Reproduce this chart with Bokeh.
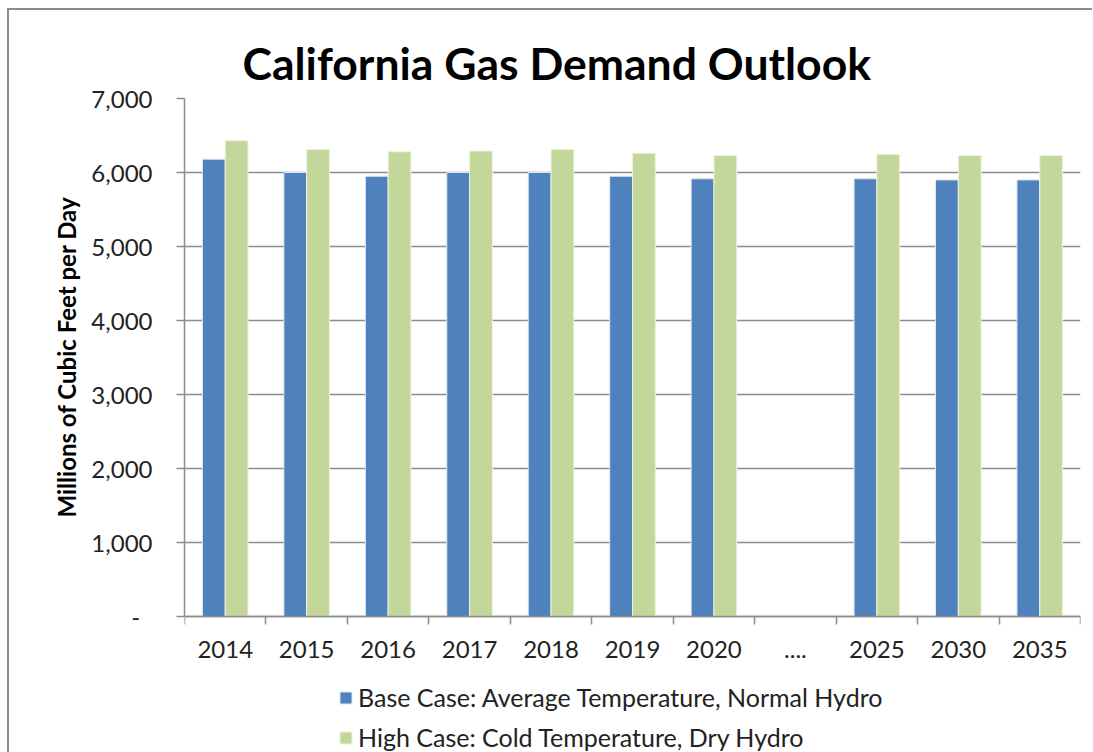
from bokeh.plotting import figure
from bokeh.models import ColumnDataSource, FixedTicker, Legend, LegendItem, Range1d, Title
from bokeh.embed import file_html
from bokeh.resources import INLINE

categories = ["2014", "2015", "2016", "2017", "2018", "2019", "2020", "....", "2025", "2030", "2035"]
base_case = [6180, 6000, 5950, 6000, 6000, 5950, 5915, float("nan"), 5915, 5900, 5900]
high_case = [6430, 6310, 6280, 6290, 6310, 6260, 6230, float("nan"), 6245, 6230, 6230]
y_ticks = [0, 1000, 2000, 3000, 4000, 5000, 6000, 7000]
y_tick_labels = ["-\u00a0\u00a0", "1,000", "2,000", "3,000", "4,000", "5,000", "6,000", "7,000"]

FONT = "Lato"
Y_MAX = 7000
PLOT_H = 518      # pixel height of the 0..7000 span
FRAME_H = 654     # frame extends below zero to host the legend
y_start = -Y_MAX * (FRAME_H - PLOT_H) / PLOT_H

idx = list(range(len(categories)))
src = ColumnDataSource(dict(
    xb=[i + 0.5 - 0.14 for i in idx],
    xh=[i + 0.5 + 0.14 for i in idx],
    base=base_case, high=high_case))

p = figure(frame_width=896, frame_height=FRAME_H, output_backend="svg", toolbar_location=None,
           x_range=Range1d(0, len(categories)), y_range=Range1d(y_start, Y_MAX),
           min_border_left=175, min_border_right=12, min_border_top=88, min_border_bottom=0)
p.styles = {"border-left": "2px solid #8a8a8a", "border-top": "2px solid #8a8a8a",
            "margin-left": "7px", "margin-top": "8px"}

rb = p.vbar(x="xb", top="base", width=0.28, source=src, fill_color="#4F81BD",
            line_color="#dfe8f3", line_width=1)
rh = p.vbar(x="xh", top="high", width=0.28, source=src, fill_color="#C4D79B",
            line_color="#eef3e0", line_width=1)

p.outline_line_color = None
p.xgrid.grid_line_color = None
p.ygrid.grid_line_color = "#8c8c8c"
p.ygrid.grid_line_width = 1.5
p.ygrid.ticker = FixedTicker(ticks=y_ticks)

p.xaxis.fixed_location = 0
p.xaxis.ticker = FixedTicker(ticks=[i + 0.5 for i in idx], minor_ticks=list(range(len(categories) + 1)))
p.xaxis.major_label_overrides = {i + 0.5: c for i, c in enumerate(categories)}
p.xaxis.major_tick_out = 0
p.xaxis.major_tick_in = 0
p.xaxis.minor_tick_out = 8
p.xaxis.minor_tick_in = 0
p.xaxis.minor_tick_line_color = "#8c8c8c"
p.xaxis.minor_tick_line_width = 1.5
p.xaxis.axis_line_color = "#8c8c8c"
p.xaxis.axis_line_width = 1.5
p.xaxis.major_label_text_font = FONT
p.xaxis.major_label_text_font_size = "24px"
p.xaxis.major_label_text_color = "#222222"
p.xaxis.major_label_standoff = 16

p.yaxis.bounds = (0, Y_MAX)
p.yaxis.ticker = FixedTicker(ticks=y_ticks)
p.yaxis.major_label_overrides = {t: l for t, l in zip(y_ticks, y_tick_labels)}
p.yaxis.major_tick_out = 8
p.yaxis.major_tick_in = 0
p.yaxis.minor_tick_line_color = None
p.yaxis.major_tick_line_color = "#8c8c8c"
p.yaxis.major_tick_line_width = 1.5
p.yaxis.axis_line_color = "#8c8c8c"
p.yaxis.axis_line_width = 1.5
p.yaxis.major_label_text_font = FONT
p.yaxis.major_label_text_font_size = "24px"
p.yaxis.major_label_text_color = "#222222"
p.yaxis.major_label_standoff = 24

ytitle = Title(text="Millions of Cubic Feet per Day", align="left", offset=235,
               text_font=FONT, text_font_size="24px", text_font_style="bold",
               text_color="#000000", standoff=16)
p.add_layout(ytitle, "left")

p.title.text = "California Gas Demand Outlook"
p.title.text_font = FONT
p.title.text_font_size = "44.5px"
p.title.text_font_style = "bold"
p.title.text_color = "#000000"
p.title.align = "left"
p.title.offset = 58
p.title.standoff = 20

legend = Legend(items=[
    LegendItem(label="Base Case: Average Temperature, Normal Hydro", renderers=[rb]),
    LegendItem(label="High Case: Cold Temperature, Dry Hydro", renderers=[rh]),
], orientation="vertical", location=(154, 0))
legend.border_line_color = None
legend.background_fill_alpha = 0
legend.label_text_font = FONT
legend.label_text_font_size = "25px"
legend.label_text_color = "#222222"
legend.glyph_width = 15
legend.glyph_height = 15
legend.label_height = 26
legend.spacing = 10
legend.label_standoff = 5
legend.margin = 0
legend.padding = 2
p.add_layout(legend, "center")

open("out.html", "w").write(file_html(p, INLINE))
